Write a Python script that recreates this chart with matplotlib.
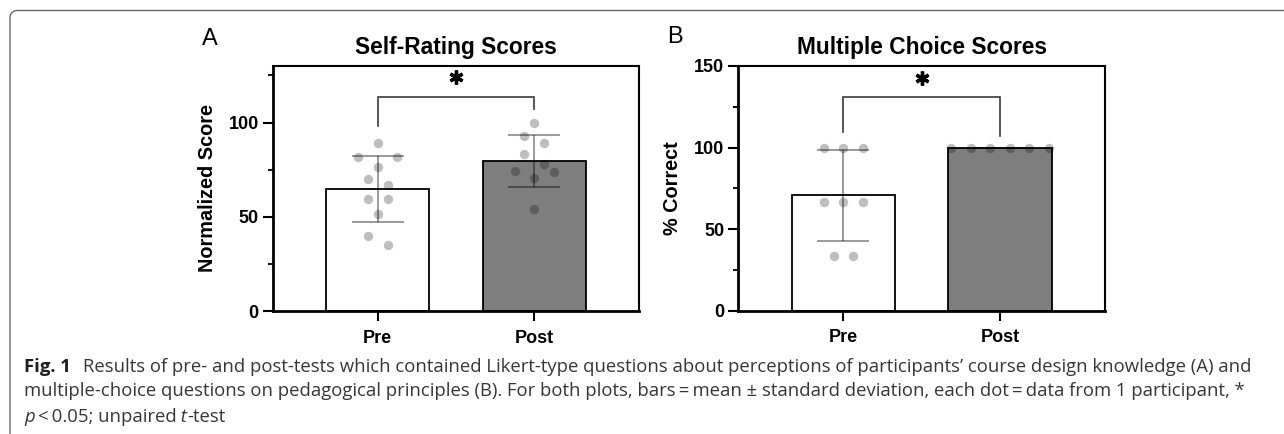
"""Fig. 1 - pre/post self-rating and multiple-choice scores (bars = mean ± SD, dots = participants)."""
import numpy as np
import matplotlib
matplotlib.use("Agg")
import matplotlib.pyplot as plt  # noqa: E402
import matplotlib.transforms as mtransforms  # noqa: E402
from matplotlib.lines import Line2D  # noqa: E402

# --- data ---------------------------------------------------------------
GROUPS = ["Pre", "Post"]
SELF_PRE = [89.2, 81.5, 81.5, 76.4, 70.2, 66.6, 59.4, 59.4, 51.6, 39.9, 34.9]
SELF_POST = [100.0, 92.7, 89.2, 83.4, 78.0, 74.1, 73.6, 70.6, 54.1]
MC_PRE = [100.0, 100.0, 100.0, 66.7, 66.7, 66.7, 33.3, 33.3]
MC_POST = [100.0, 100.0, 100.0, 100.0, 100.0, 100.0]

# significance bracket: left foot, top, right foot ; star height
SIG_SELF = [98.4, 113.7, 107.3]
SIG_MC = [109.8, 130.7, 107.2]
STAR_SELF = 124.0
STAR_MC = 142.5

CAPTION_1 = ("Results of pre- and post-tests which contained Likert-type questions about "
             "perceptions of participants\u2019 course design knowledge (A) and")
CAPTION_2 = ("multiple-choice questions on pedagogical principles (B). For both plots, "
             "bars\u2009=\u2009mean \u00b1 standard deviation, each dot\u2009=\u2009data "
             "from 1 participant, *")

W, H = 1284, 434
BAR_W = 0.66
XLIM = (-0.67, 1.67)
DOT_STEP_PX = 19.5
ROW_PX = 11.0
POST_COLOR = "#7d7e7d"

plt.rcParams["font.family"] = ["Liberation Sans", "DejaVu Sans"]
plt.rcParams["font.weight"] = "bold"

fig = plt.figure(figsize=(W / 100, H / 100), dpi=100)


def px_axes(left, top, right, bottom):
    return fig.add_axes([left / W, 1 - bottom / H, (right - left) / W, (bottom - top) / H])


def swarm(values, row_h, step):
    """Group close values into rows and spread each row symmetrically."""
    vals = np.asarray(values, float)
    order = np.argsort(-vals, kind="stable")
    rows = []
    for i in order:
        if rows and vals[rows[-1][0]] - vals[i] <= row_h:
            rows[-1].append(i)
        else:
            rows.append([i])
    off = np.zeros(len(vals))
    for row in rows:
        n = len(row)
        slots = [k - (n - 1) / 2 for k in range(n)]
        slots.sort(key=lambda s: (-abs(s), s))
        for idx, s in zip(row, slots):
            off[idx] = s * step
    return off


def panel(ax, pre, post, ymax, major, title, ylabel, sig, star_y):
    x = np.arange(len(GROUPS))
    data = [np.asarray(pre), np.asarray(post)]
    means = [d.mean() for d in data]
    sds = [d.std(ddof=1) for d in data]

    ax.set_xlim(*XLIM)
    ax.set_ylim(0, ymax)
    ax.bar(x, means, width=BAR_W, color=["white", POST_COLOR],
           edgecolor="black", linewidth=1.3, zorder=2)

    ax_h_px = ax.get_position().height * H
    ax_w_px = ax.get_position().width * W
    row_h = ROW_PX * ymax / ax_h_px
    step = DOT_STEP_PX * (XLIM[1] - XLIM[0]) / ax_w_px
    for xi, d in zip(x, data):
        ax.scatter(xi + swarm(d, row_h, step), d, s=46, color="black",
                   alpha=0.25, linewidths=0, zorder=3)

    ax.errorbar(x, means, yerr=sds, fmt="none", ecolor=(0, 0, 0, 0.5),
                elinewidth=1.1, capsize=18.7, capthick=1.1, zorder=4)

    ax.plot([0, 0, 1, 1], [sig[0], sig[1], sig[1], sig[2]], color="#3a3a3a",
            lw=1.2, solid_joinstyle="miter", zorder=4)
    ax.plot(0.5, star_y, marker=(6, 2, 0), ms=10, mew=2.4, color="black")

    ax.set_xticks(x, GROUPS)
    ax.set_yticks(major)
    ax.set_yticks([m + 25 for m in major[:-1]] + ([125] if ymax > 125 and 125 not in major else []),
                  minor=True)
    ax.tick_params(which="major", length=7.2, width=1.5, labelsize=13, color="black")
    ax.tick_params(axis="y", which="major", pad=3)
    ax.tick_params(axis="x", which="major", pad=6.3)
    ax.tick_params(which="minor", length=3.8, width=1.3)
    ax.tick_params(axis="x", which="minor", bottom=False)
    for side, lw in (("left", 2.0), ("bottom", 2.0), ("top", 1.5), ("right", 1.5)):
        ax.spines[side].set_linewidth(lw)
    ax.set_title(title, fontsize=16.4, fontweight="bold", pad=8.5)
    ax.set_ylabel(ylabel, fontsize=14.3, fontweight="bold")
    ax.yaxis.set_label_coords(-0.153, 0.5)


ax_a = px_axes(273, 66, 639, 311)
ax_b = px_axes(738.3, 66, 1105, 310.7)
panel(ax_a, SELF_PRE, SELF_POST, 130, [0, 50, 100], "Self-Rating Scores",
      "Normalized Score", SIG_SELF, STAR_SELF)
panel(ax_b, MC_PRE, MC_POST, 150, [0, 50, 100, 150], "Multiple Choice Scores",
      "% Correct", SIG_MC, STAR_MC)

fig.text(210 / W, 1 - 39 / H, "A", fontsize=17, fontweight="normal", ha="center", va="center")
fig.text(675 / W, 1 - 37 / H, "B", fontsize=17, fontweight="normal", ha="center", va="center")

# page frame with rounded top-left corner (pixel coords from bottom-left)
px = mtransforms.Affine2D().scale(1 / W, 1 / H) + fig.transFigure
r = 7.0
fx, fy = 10.0, H - 10.5
ang = np.linspace(np.pi, np.pi / 2, 20)
xs = np.concatenate([[fx], fx + r + r * np.cos(ang), [W + 5]])
ys = np.concatenate([[-5], fy - r + r * np.sin(ang), [fy]])
fig.add_artist(Line2D(xs, ys, transform=px, color="#6b6b6b", lw=1.0, clip_on=False))

# caption, drawn as styled runs
CAP_FS = 13.3
CAP_FAMILY = ["Open Sans", "DejaVu Sans"]
renderer = fig.canvas.get_renderer()


def caption_line(baseline_px, runs, x0=24.0):
    x = x0
    for text, style, weight, color, gap in runs:
        t = fig.text(x / W, 1 - baseline_px / H, text, ha="left", va="baseline",
                     family=CAP_FAMILY, fontsize=CAP_FS, style=style,
                     weight=weight, color=color)
        x = t.get_window_extent(renderer=renderer).x1 + gap


caption_line(371.5, [("Fig. 1", "normal", "bold", "#1f1f1f", 12.0),
                     (CAPTION_1, "normal", "normal", "#363636", 0)])
caption_line(396.5, [(CAPTION_2, "normal", "normal", "#363636", 0)])
caption_line(421.5, [("p", "italic", "normal", "#363636", 0),
                     ("\u2009<\u20090.05; unpaired", "normal", "normal", "#363636", 0),
                     (" t", "italic", "normal", "#363636", 0),
                     ("-test", "normal", "normal", "#363636", 0)])

fig.savefig("out.png", dpi=100)
